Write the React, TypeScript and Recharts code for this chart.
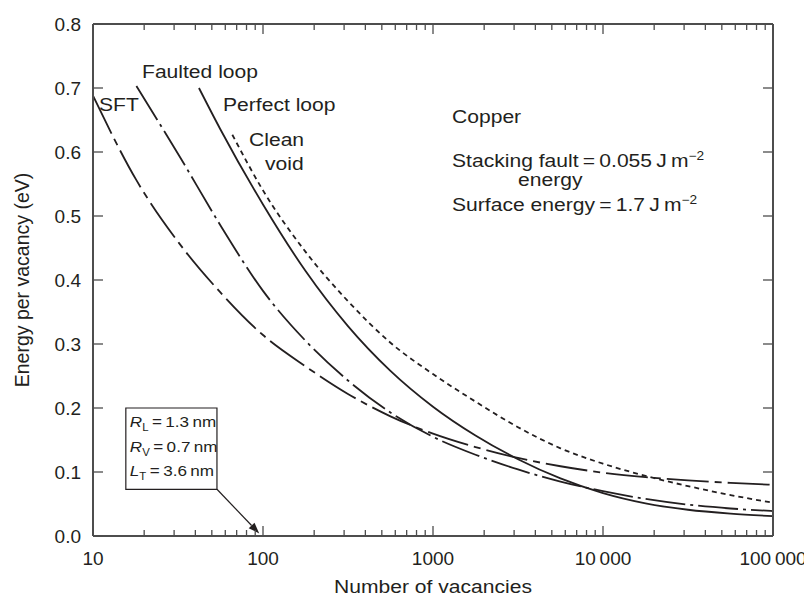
import React from "react";
import { LineChart, Line, XAxis, YAxis, ReferenceArea, ReferenceLine, Customized } from "recharts";

const INK = "#231f20";
const FRAME = "#4d4d4d";
const FONT = '"Liberation Sans", Arial, Helvetica, sans-serif';
const WIDE = 1.14; // the reference lettering is a bit wider than Arial

// number of vacancies -> energy per vacancy (eV)
const sftN = [10, 18, 32, 56, 100, 178, 316, 562, 1000, 1778, 3162, 5623, 10000, 17783, 31623, 56234, 100000];
const sftE = [0.688, 0.556, 0.458, 0.381, 0.314, 0.265, 0.222, 0.187, 0.16, 0.139, 0.122, 0.109, 0.099, 0.092, 0.087, 0.083, 0.08];

const faultedN = [18, 32, 56, 100, 178, 316, 562, 1000, 1778, 3162, 5623, 10000, 17783, 31623, 56234, 100000];
const faultedE = [0.703, 0.595, 0.486, 0.383, 0.305, 0.243, 0.193, 0.155, 0.127, 0.104, 0.085, 0.07, 0.058, 0.049, 0.043, 0.039];

const perfectN = [42, 56, 100, 178, 316, 562, 1000, 1778, 3162, 5623, 10000, 17783, 31623, 56234, 100000];
const perfectE = [0.7, 0.636, 0.518, 0.414, 0.328, 0.258, 0.202, 0.157, 0.12, 0.09, 0.067, 0.051, 0.041, 0.035, 0.031];

const voidN = [66, 100, 178, 316, 562, 1000, 1778, 3162, 5623, 10000, 17783, 31623, 56234, 100000];
const voidE = [0.627, 0.54, 0.444, 0.367, 0.302, 0.253, 0.21, 0.17, 0.137, 0.113, 0.094, 0.078, 0.064, 0.052];

const xMajorTicks = [10, 100, 1000, 10000, 100000];
const xTickLabels = ["10", "100", "1000", "10\u2009000", "100\u2009000"];
const minorMultipliers = [2, 3, 4, 5, 6, 7, 8, 9];
const yTicks = [0, 0.1, 0.2, 0.3, 0.4, 0.5, 0.6, 0.7, 0.8];
const yTickLabels = ["0.0", "0.1", "0.2", "0.3", "0.4", "0.5", "0.6", "0.7", "0.8"];

// annotation box (data coords) and its arrow
const boxX = [15.6, 53.6];
const boxY = [0.073, 0.2];
const arrowTip = { x: 95, y: 0.004 };

const xTicks = [
  ...xMajorTicks,
  ...xMajorTicks.slice(0, 4).flatMap((d) => minorMultipliers.map((m) => m * d)),
].sort((a, b) => a - b);

const toPoints = (ns: number[], es: number[]) => ns.map((n, i) => ({ n, e: es[i] }));

const series = [
  { name: "SFT", data: toPoints(sftN, sftE), dash: "42 6 7 6" },
  { name: "Faulted loop", data: toPoints(faultedN, faultedE), dash: "40 5 3 5" },
  { name: "Perfect loop", data: toPoints(perfectN, perfectE), dash: undefined },
  { name: "Clean void", data: toPoints(voidN, voidE), dash: "5 4" },
];

const WideText = ({ x, y, children, size = 18.5 }: any) => (
  <text
    transform={`translate(${x},${y}) scale(${WIDE},1)`}
    fill={INK}
    fontSize={size}
    fontFamily={FONT}
  >
    {children}
  </text>
);

// ticks are drawn inward; tickSize/tickMargin are 0 so (x, y) sits on the frame
const BottomTick = ({ x, y, payload }: any) => {
  const i = xMajorTicks.indexOf(payload.value);
  return (
    <g>
      <line x1={x} y1={y} x2={x} y2={y - (i >= 0 ? 10 : 6)} stroke={FRAME} strokeWidth={1.3} />
      {i >= 0 && (
        <text x={x} y={y + 29} textAnchor="middle" fill={INK} fontSize={19} fontFamily={FONT}>
          {xTickLabels[i]}
        </text>
      )}
    </g>
  );
};

const TopTick = ({ x, y, payload }: any) => {
  const major = xMajorTicks.includes(payload.value);
  return <line x1={x} y1={y} x2={x} y2={y + (major ? 10 : 6)} stroke={FRAME} strokeWidth={1.3} />;
};

const LeftTick = ({ x, y, payload }: any) => {
  const i = yTicks.indexOf(payload.value);
  return (
    <g>
      <line x1={x} y1={y} x2={x + 10} y2={y} stroke={FRAME} strokeWidth={1.3} />
      <text x={x - 12} y={y + 7} textAnchor="end" fill={INK} fontSize={19} fontFamily={FONT}>
        {yTickLabels[i]}
      </text>
    </g>
  );
};

const RightTick = ({ x, y }: any) => (
  <line x1={x} y1={y} x2={x - 10} y2={y} stroke={FRAME} strokeWidth={1.3} />
);

const BoxText = ({ viewBox }: any) => {
  const { x, y } = viewBox;
  const rows = [
    { v: "R", s: "L", val: "1.3" },
    { v: "R", s: "V", val: "0.7" },
    { v: "L", s: "T", val: "3.6" },
  ];
  return (
    <g>
      {rows.map((r, k) => (
        <text
          key={k}
          transform={`translate(${x + 4},${y + 19 + k * 24.5}) scale(${WIDE},1)`}
          fill={INK}
          fontSize={15}
          fontFamily={FONT}
        >
          <tspan fontStyle="italic">{r.v}</tspan>
          <tspan fontSize={10} dy={4}>{r.s}</tspan>
          <tspan dy={-4}>{`\u2009=\u2009${r.val}\u2009nm`}</tspan>
        </text>
      ))}
    </g>
  );
};

const Arrow = ({ x1, y1, x2, y2 }: any) => {
  const a = Math.atan2(y2 - y1, x2 - x1);
  const L = 11;
  const W = 4;
  const bx = x2 - L * Math.cos(a);
  const by = y2 - L * Math.sin(a);
  const p1 = `${bx + W * Math.sin(a)},${by - W * Math.cos(a)}`;
  const p2 = `${bx - W * Math.sin(a)},${by + W * Math.cos(a)}`;
  return (
    <g>
      <line x1={x1} y1={y1} x2={bx} y2={by} stroke={INK} strokeWidth={1.2} />
      <polygon points={`${x2},${y2} ${p1} ${p2}`} fill={INK} />
    </g>
  );
};

const Annotations = () => (
  <g>
    <WideText x={134} y={70}>Faulted loop</WideText>
    <WideText x={91} y={103}>SFT</WideText>
    <WideText x={215} y={103}>Perfect loop</WideText>
    <WideText x={241} y={138}>Clean</WideText>
    <WideText x={257} y={162}>void</WideText>
    <WideText x={444} y={115}>Copper</WideText>
    <WideText x={444} y={159}>
      <tspan>{"Stacking fault\u2009=\u20090.055\u2009J\u2009m"}</tspan>
      <tspan fontSize={12} dy={-7}>{"\u22122"}</tspan>
    </WideText>
    <WideText x={510} y={178}>energy</WideText>
    <WideText x={444} y={203}>
      <tspan>{"Surface energy\u2009=\u20091.7\u2009J\u2009m"}</tspan>
      <tspan fontSize={12} dy={-7}>{"\u22122"}</tspan>
    </WideText>
  </g>
);

export default function App() {
  return (
    <div style={{ width: 804, height: 590 }}>
      <LineChart width={804} height={590} margin={{ top: 6, right: 29, bottom: 4, left: 25 }}>
        <XAxis
          dataKey="n"
          type="number"
          scale="log"
          domain={[10, 100000]}
          allowDataOverflow
          ticks={xTicks}
          interval={0}
          tickSize={0}
          tickMargin={0}
          height={58}
          stroke={FRAME}
          axisLine={{ stroke: FRAME, strokeWidth: 2 }}
          tick={<BottomTick />}
          label={(p: any) => {
            const vb = p.viewBox;
            return (
              <text
                transform={`translate(${vb.x + vb.width / 2},${vb.y + 57}) scale(${WIDE},1)`}
                textAnchor="middle"
                fill={INK}
                fontSize={18.5}
                fontFamily={FONT}
              >
                Number of vacancies
              </text>
            );
          }}
        />
        <XAxis
          xAxisId="top"
          orientation="top"
          dataKey="n"
          type="number"
          scale="log"
          domain={[10, 100000]}
          allowDataOverflow
          ticks={xTicks}
          interval={0}
          tickSize={0}
          tickMargin={0}
          height={10}
          axisLine={{ stroke: FRAME, strokeWidth: 2 }}
          tick={<TopTick />}
        />
        <YAxis
          type="number"
          domain={[0, 0.8]}
          allowDataOverflow
          ticks={yTicks}
          interval={0}
          tickSize={0}
          tickMargin={0}
          width={60}
          axisLine={{ stroke: FRAME, strokeWidth: 2 }}
          tick={<LeftTick />}
          label={(p: any) => {
            const vb = p.viewBox;
            const cx = vb.x - 11;
            const cy = vb.y + vb.height / 2;
            return (
              <text
                transform={`translate(${cx},${cy}) rotate(-90)`}
                textAnchor="middle"
                dominantBaseline="central"
                fill={INK}
                fontSize={19.5}
                fontFamily={FONT}
              >
                Energy per vacancy (eV)
              </text>
            );
          }}
        />
        <YAxis
          yAxisId="right"
          orientation="right"
          type="number"
          domain={[0, 0.8]}
          allowDataOverflow
          ticks={yTicks}
          interval={0}
          tickSize={0}
          tickMargin={0}
          width={10}
          axisLine={{ stroke: FRAME, strokeWidth: 2 }}
          tick={<RightTick />}
        />
        {series.map((s) => (
          <Line
            key={s.name}
            data={s.data}
            dataKey="e"
            name={s.name}
            type="monotone"
            stroke={INK}
            strokeWidth={1.8}
            strokeDasharray={s.dash}
            dot={false}
            activeDot={false}
            isAnimationActive={false}
          />
        ))}
        <ReferenceArea
          x1={boxX[0]}
          x2={boxX[1]}
          y1={boxY[0]}
          y2={boxY[1]}
          fill="#ffffff"
          fillOpacity={1}
          stroke={INK}
          strokeWidth={1.2}
          label={(p: any) => <BoxText viewBox={p.viewBox} />}
        />
        <ReferenceLine
          segment={[
            { x: boxX[1], y: boxY[0] },
            arrowTip,
          ]}
          shape={(p: any) => <Arrow {...p} />}
        />
        <Customized component={<Annotations />} />
      </LineChart>
    </div>
  );
}
